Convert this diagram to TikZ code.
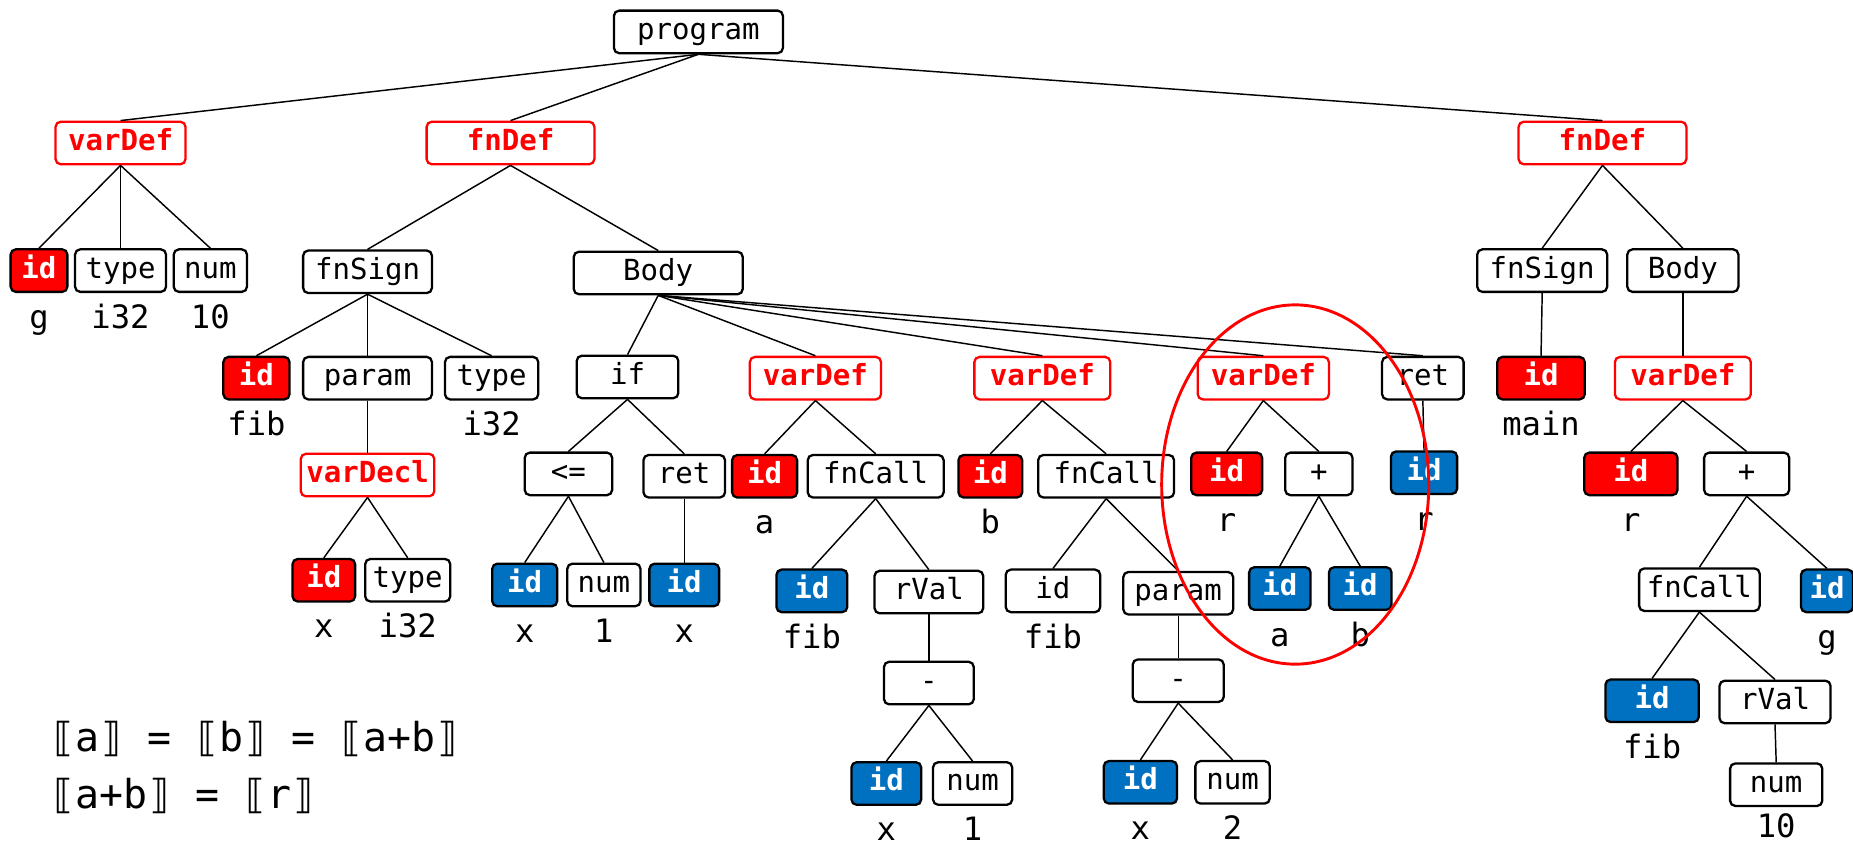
\documentclass[tikz,border=0pt]{standalone}
\usepackage{fontspec}
\setmonofont{DejaVu Sans Mono}
\usetikzlibrary{positioning}
\definecolor{idred}{RGB}{255,0,0}
\definecolor{idblue}{RGB}{0,112,192}
\tikzset{
  box/.style={draw, line width=1.1pt, rounded corners=2.5pt, fill=white,
    minimum height=7.2mm, inner sep=0pt, text height=9.8pt, text depth=2.6pt,
    font=\ttfamily\fontsize{14}{15}\selectfont},
  redbox/.style={box, draw=idred, text=idred,
    font=\ttfamily\bfseries\fontsize{14}{15}\selectfont},
  redid/.style={box, fill=idred, text=white,
    font=\ttfamily\bfseries\fontsize{14}{15}\selectfont},
  blueid/.style={box, fill=idblue, text=white,
    font=\ttfamily\bfseries\fontsize{14}{15}\selectfont},
  wd/.style={minimum width=#1*0.2mm},
  lbl/.style={inner sep=0pt, text height=11pt, text depth=3pt,
    font=\ttfamily\fontsize{15.5}{16}\selectfont},
  edge/.style={line width=0.7pt},
  ring/.style={draw=idred, line width=1.4pt},
}

\begin{document}
\begin{tikzpicture}[x=0.2mm,y=0.2mm]
    \useasboundingbox (0,0) rectangle (1568,-716);
    \node[box,wd=143] (prog) at (591,-27) {program};
    \node[redbox,wd=110] (vdg) at (102,-121) {varDef};
    \node[redbox,wd=142] (fdfib) at (432,-121) {fnDef};
    \node[redbox,wd=142] (fdmain) at (1356,-121) {fnDef};
    \node[redid,wd=48] (idg) at (33,-229) {id};
    \node[box,wd=77] (tyg) at (102,-229) {type};
    \node[box,wd=62] (numg) at (178,-229) {num};
    \node[box,wd=109] (sgfib) at (311,-230) {fnSign};
    \node[box,wd=143] (bdfib) at (557,-231) {Body};
    \node[box,wd=110] (sgmain) at (1305,-229) {fnSign};
    \node[box,wd=94] (bdmain) at (1424,-229) {Body};
    \node[redid,wd=56] (idfib) at (217,-320) {id};
    \node[box,wd=109] (prm) at (311,-320) {param};
    \node[box,wd=79] (tyfib) at (416,-320) {type};
    \node[box,wd=86] (iff) at (531,-319) {if};
    \node[redbox,wd=111] (vda) at (690,-320) {varDef};
    \node[redbox,wd=115] (vdb) at (882,-320) {varDef};
    \node[redbox,wd=111] (vdr) at (1069,-320) {varDef};
    \node[box,wd=69] (rtfib) at (1204,-320) {ret};
    \node[redid,wd=74] (idmain) at (1304,-320) {id};
    \node[redbox,wd=115] (vdm) at (1424,-320) {varDef};
    \node[redbox,wd=113] (vdx) at (311,-402) {varDecl};
    \node[box,wd=74] (le) at (481,-401) {<=};
    \node[box,wd=69] (rtif) at (579,-403) {ret};
    \node[redid,wd=55] (ida) at (647,-403) {id};
    \node[box,wd=115] (fca) at (741,-403) {fnCall};
    \node[redid,wd=54] (idb) at (838,-403) {id};
    \node[box,wd=115] (fcb) at (936,-403) {fnCall};
    \node[redid,wd=60] (idr) at (1038,-401) {id};
    \node[box,wd=57] (pls) at (1116,-401) {+};
    \node[blueid,wd=56] (idret) at (1205,-400) {id};
    \node[redid,wd=79] (idrm) at (1380,-401) {id};
    \node[box,wd=72] (plsm) at (1478,-401) {+};
    \node[redid,wd=53] (idx) at (274,-491) {id};
    \node[box,wd=72] (tyx) at (345,-491) {type};
    \node[blueid,wd=55] (idle) at (444,-495) {id};
    \node[box,wd=62] (numle) at (511,-495) {num};
    \node[blueid,wd=59] (idrt) at (579,-495) {id};
    \node[blueid,wd=60] (idfa) at (687,-500) {id};
    \node[box,wd=92] (rva) at (786,-501) {rVal};
    \node[box,wd=80] (idfb) at (891,-500) {id};
    \node[box,wd=93] (prmb) at (997,-502) {param};
    \node[blueid,wd=52] (ida2) at (1083,-498) {id};
    \node[blueid,wd=53] (idb2) at (1151,-498) {id};
    \node[box,wd=102] (fcm) at (1438,-499) {fnCall};
    \node[blueid,wd=44] (idgm) at (1546,-500) {id};
    \node[box,wd=76] (mna) at (786,-578) {-};
    \node[box,wd=77] (mnb) at (997,-576) {-};
    \node[blueid,wd=79] (idfm) at (1398,-593) {id};
    \node[box,wd=94] (rvm) at (1502,-594) {rVal};
    \node[blueid,wd=59] (idxa) at (750,-663) {id};
    \node[box,wd=67] (numa) at (823,-663) {num};
    \node[blueid,wd=62] (idxb) at (965,-662) {id};
    \node[box,wd=63] (numb) at (1043,-662) {num};
    \node[box,wd=78] (numm) at (1503,-664) {num};

    \node[lbl,below=2mm of idg] (lg) {g};
    \node[lbl,below=2mm of tyg] (ltyg) {i32};
    \node[lbl,below=2mm of numg] (lnumg) {10};
    \node[lbl,below=2mm of idfib] (lfib) {fib};
    \node[lbl,below=2mm of tyfib] (ltyfib) {i32};
    \node[lbl,below=2mm of idmain] (lmain) {main};
    \node[lbl,below=2mm of ida] (la) {a};
    \node[lbl,below=2mm of idb] (lb) {b};
    \node[lbl,below=2mm of idr] (lr) {r};
    \node[lbl,below=2mm of idret] (lret) {r};
    \node[lbl,below=2mm of idrm] (lrm) {r};
    \node[lbl,below=2mm of idx] (lx) {x};
    \node[lbl,below=2mm of tyx] (ltyx) {i32};
    \node[lbl,below=2mm of idle] (lle) {x};
    \node[lbl,below=2mm of numle] (lnumle) {1};
    \node[lbl,below=2mm of idrt] (lrt) {x};
    \node[lbl,below=2mm of idfa] (lfa) {fib};
    \node[lbl,below=2mm of idfb] (lfb) {fib};
    \node[lbl,below=2mm of ida2] (la2) {a};
    \node[lbl,below=2mm of idb2] (lb2) {b};
    \node[lbl,below=2mm of idgm] (lgm) {g};
    \node[lbl,below=2mm of idfm] (lfm) {fib};
    \node[lbl,below=2mm of idxa] (lxa) {x};
    \node[lbl,below=2mm of numa] (lnuma) {1};
    \node[lbl,below=2mm of idxb] (lxb) {x};
    \node[lbl,below=2mm of numb] (lnumb) {2};
    \node[lbl,below=1.2mm of numm] (lnumm) {10};

    \node[anchor=base west,inner sep=0pt,font=\ttfamily\fontsize{19.2}{20}\selectfont] (eqa) at (43,-636) {⟦a⟧ = ⟦b⟧ = ⟦a+b⟧};
    \node[anchor=base west,inner sep=0pt,font=\ttfamily\fontsize{19.2}{20}\selectfont] (eqb) at (43,-684) {⟦a+b⟧ = ⟦r⟧};

    \draw[edge] (prog.south) -- (vdg.north);
    \draw[edge] (prog.south) -- (fdfib.north);
    \draw[edge] (prog.south) -- (fdmain.north);
    \draw[edge] (vdg.south) -- (idg.north);
    \draw[edge] (vdg.south) -- (tyg.north);
    \draw[edge] (vdg.south) -- (numg.north);
    \draw[edge] (fdfib.south) -- (sgfib.north);
    \draw[edge] (fdfib.south) -- (bdfib.north);
    \draw[edge] (sgfib.south) -- (idfib.north);
    \draw[edge] (sgfib.south) -- (prm.north);
    \draw[edge] (sgfib.south) -- (tyfib.north);
    \draw[edge] (prm.south) -- (vdx.north);
    \draw[edge] (vdx.south) -- (idx.north);
    \draw[edge] (vdx.south) -- (tyx.north);
    \draw[edge] (bdfib.south) -- (iff.north);
    \draw[edge] (bdfib.south) -- (vda.north);
    \draw[edge] (bdfib.south) -- (vdb.north);
    \draw[edge] (bdfib.south) -- (vdr.north);
    \draw[edge] (bdfib.south) -- (rtfib.north);
    \draw[edge] (iff.south) -- (le.north);
    \draw[edge] (iff.south) -- (rtif.north);
    \draw[edge] (le.south) -- (idle.north);
    \draw[edge] (le.south) -- (numle.north);
    \draw[edge] (rtif.south) -- (idrt.north);
    \draw[edge] (vda.south) -- (ida.north);
    \draw[edge] (vda.south) -- (fca.north);
    \draw[edge] (fca.south) -- (idfa.north);
    \draw[edge] (fca.south) -- (rva.north);
    \draw[edge] (rva.south) -- (mna.north);
    \draw[edge] (mna.south) -- (idxa.north);
    \draw[edge] (mna.south) -- (numa.north);
    \draw[edge] (vdb.south) -- (idb.north);
    \draw[edge] (vdb.south) -- (fcb.north);
    \draw[edge] (fcb.south) -- (idfb.north);
    \draw[edge] (fcb.south) -- (prmb.north);
    \draw[edge] (prmb.south) -- (mnb.north);
    \draw[edge] (mnb.south) -- (idxb.north);
    \draw[edge] (mnb.south) -- (numb.north);
    \draw[edge] (vdr.south) -- (idr.north);
    \draw[edge] (vdr.south) -- (pls.north);
    \draw[edge] (pls.south) -- (ida2.north);
    \draw[edge] (pls.south) -- (idb2.north);
    \draw[edge] (rtfib.south) -- (idret.north);
    \draw[edge] (fdmain.south) -- (sgmain.north);
    \draw[edge] (fdmain.south) -- (bdmain.north);
    \draw[edge] (sgmain.south) -- (idmain.north);
    \draw[edge] (bdmain.south) -- (vdm.north);
    \draw[edge] (vdm.south) -- (idrm.north);
    \draw[edge] (vdm.south) -- (plsm.north);
    \draw[edge] (plsm.south) -- (fcm.north);
    \draw[edge] (plsm.south) -- (idgm.north);
    \draw[edge] (fcm.south) -- (idfm.north);
    \draw[edge] (fcm.south) -- (rvm.north);
    \draw[edge] (rvm.south) -- (numm.north);

    \draw[ring] (1096,-410) ellipse [x radius=22.6mm, y radius=30.4mm];
  \end{tikzpicture}
\end{document}
